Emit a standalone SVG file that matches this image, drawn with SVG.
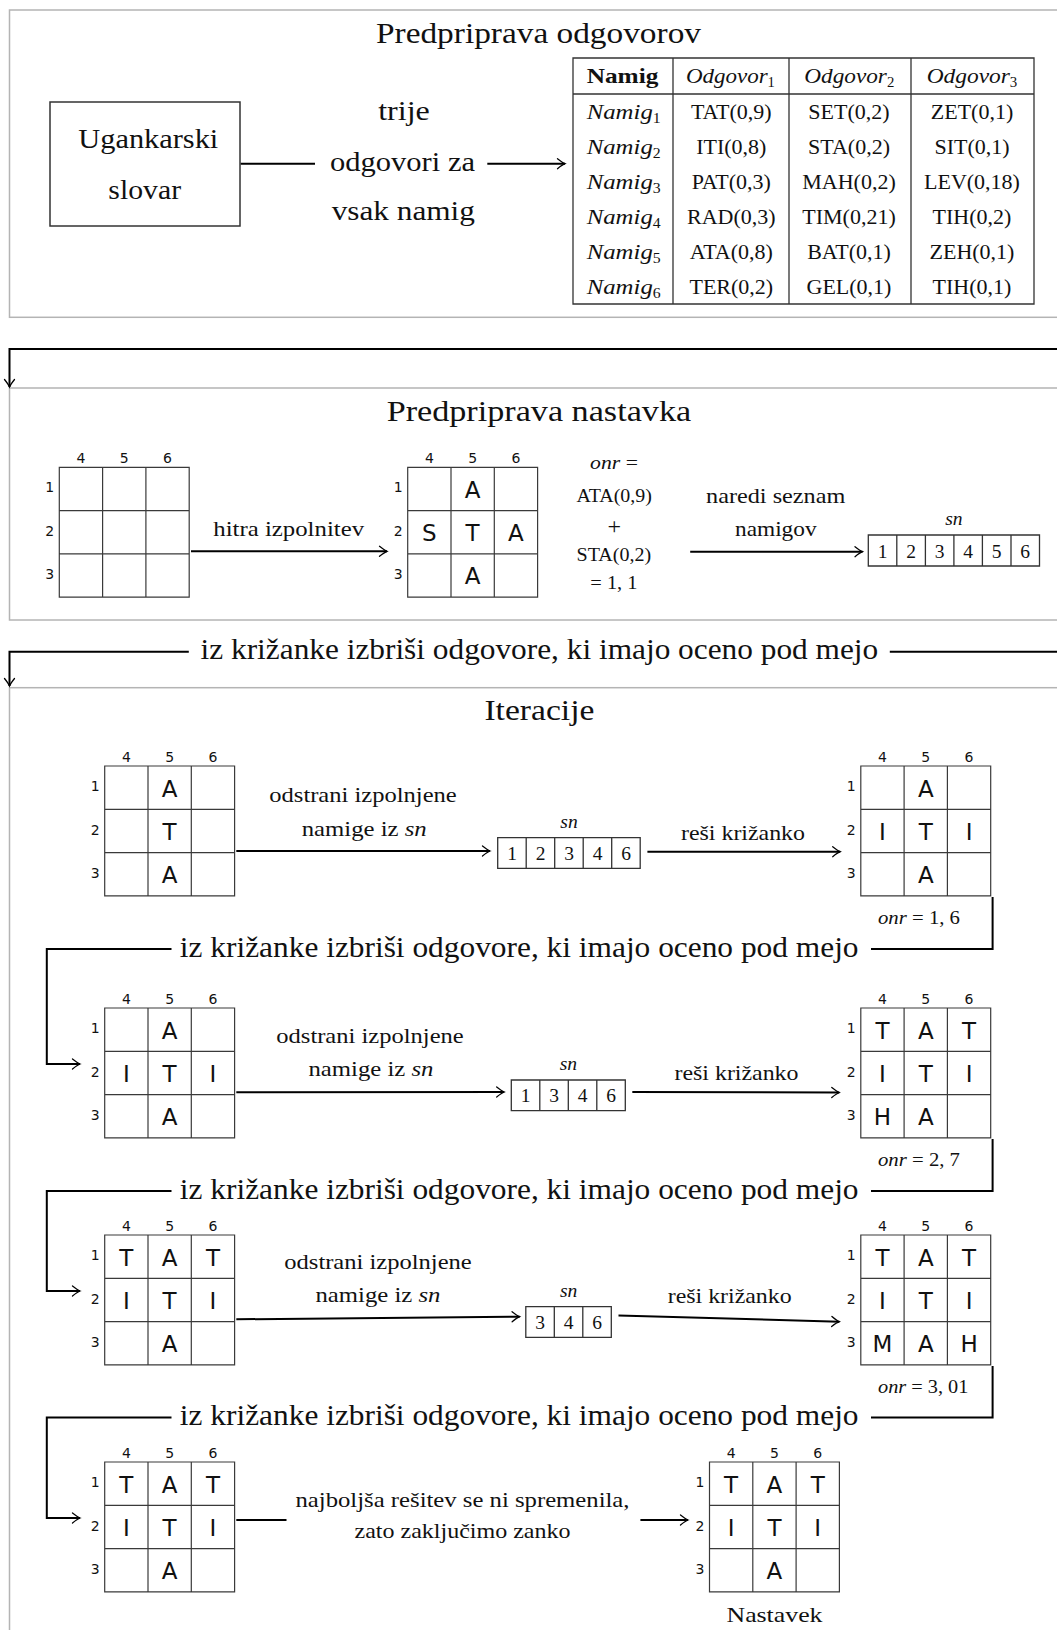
<svg xmlns="http://www.w3.org/2000/svg" width="1057" height="1630" viewBox="0 0 1057 1630">
<defs>
<style>
 .sec{fill:none;stroke:#b4b4b4;stroke-width:1.5}
 .box{fill:none;stroke:#333;stroke-width:1.5}
 .tl{fill:none;stroke:#333;stroke-width:1.3}
 .gl{fill:none;stroke:#3a3a3a;stroke-width:1.2}
 .wire{fill:none;stroke:#000;stroke-width:2}
 .arr{marker-end:url(#tip)}
 text{fill:#111}
 .rm{font-family:"Liberation Serif","Times New Roman",serif}
 .it{font-style:italic}
 .bf{font-weight:bold}
 .sf{font-family:"DejaVu Sans","Liberation Sans",sans-serif}
 .c{text-anchor:middle}
 .h1{font-size:30px}
 .big{font-size:29px}
 .mid{font-size:27px}
 .lbl{font-size:22px}
 .tb{font-size:22px}
 .sm{font-size:19.5px}
 .sub{font-size:14px}
 .idx{font-size:14px}
 .let{font-size:23px}
</style>
<marker id="tip" viewBox="-10 -7 12 14" refX="0" refY="0" markerWidth="12" markerHeight="14" markerUnits="userSpaceOnUse" orient="auto">
 <path d="M-7.5,-5 Q-2.5,-1 0,0 Q-2.5,1 -7.5,5" fill="none" stroke="#000" stroke-width="1.3" stroke-linecap="round"/>
</marker>
<!-- 3x3 crossword grid with column and row numbers -->
<g id="grid">
 <path class="gl" d="M0,0H129.9V129.9H0Z M43.3,0V129.9 M86.6,0V129.9 M0,43.3H129.9 M0,86.6H129.9"/>
 <g class="sf idx c">
  <text x="21.65" y="-4">4</text><text x="64.95" y="-4">5</text><text x="108.25" y="-4">6</text>
  <text x="-9.5" y="24.5">1</text><text x="-9.5" y="68.8">2</text><text x="-9.5" y="111.5">3</text>
 </g>
</g>
</defs>

<rect x="0" y="0" width="1057" height="1630" fill="#fff"/>

<!-- section frames -->
<g id="sections">
 <rect class="sec" x="9.5" y="10" width="1060" height="307.3"/>
 <rect class="sec" x="9.5" y="388" width="1060" height="232"/>
 <rect class="sec" x="9.5" y="687.7" width="1060" height="1000"/>
 <text class="rm h1 c" x="538.5" y="43" textLength="325" lengthAdjust="spacingAndGlyphs">Predpriprava odgovorov</text>
 <text class="rm h1 c" x="538.9" y="421" textLength="304.5" lengthAdjust="spacingAndGlyphs">Predpriprava nastavka</text>
 <text class="rm h1 c" x="539.4" y="719.5" textLength="110" lengthAdjust="spacingAndGlyphs">Iteracije</text>
</g>

<!-- dictionary node -->
<g id="slovar">
 <rect class="box" x="50" y="102" width="190" height="124"/>
 <text class="rm mid c" x="148.3" y="148" textLength="140" lengthAdjust="spacingAndGlyphs">Ugankarski</text>
 <text class="rm mid c" x="144.7" y="199" textLength="72.7" lengthAdjust="spacingAndGlyphs">slovar</text>
</g>

<!-- answers table -->
<g id="tabela">
 <path class="tl" d="M573,58H1034V304H573Z M573,94H1034 M673,58V304 M789,58V304 M911,58V304"/>
 <g class="rm tb c">
  <text class="bf" x="622.5" y="83" textLength="71.7" lengthAdjust="spacingAndGlyphs">Namig</text>
  <text class="it" x="730.4" y="83" textLength="89" lengthAdjust="spacingAndGlyphs">Odgovor<tspan class="sub" font-style="normal" dy="4">1</tspan></text>
  <text class="it" x="849.3" y="83" textLength="90" lengthAdjust="spacingAndGlyphs">Odgovor<tspan class="sub" font-style="normal" dy="4">2</tspan></text>
  <text class="it" x="972" y="83" textLength="90.6" lengthAdjust="spacingAndGlyphs">Odgovor<tspan class="sub" font-style="normal" dy="4">3</tspan></text>

  <text class="it" x="623.7" y="119" textLength="74" lengthAdjust="spacingAndGlyphs">Namig<tspan class="sub" font-style="normal" dy="4">1</tspan></text>
  <text class="it" x="623.7" y="154" textLength="74" lengthAdjust="spacingAndGlyphs">Namig<tspan class="sub" font-style="normal" dy="4">2</tspan></text>
  <text class="it" x="623.7" y="189" textLength="74" lengthAdjust="spacingAndGlyphs">Namig<tspan class="sub" font-style="normal" dy="4">3</tspan></text>
  <text class="it" x="623.7" y="224" textLength="74" lengthAdjust="spacingAndGlyphs">Namig<tspan class="sub" font-style="normal" dy="4">4</tspan></text>
  <text class="it" x="623.7" y="259" textLength="74" lengthAdjust="spacingAndGlyphs">Namig<tspan class="sub" font-style="normal" dy="4">5</tspan></text>
  <text class="it" x="623.7" y="294" textLength="74" lengthAdjust="spacingAndGlyphs">Namig<tspan class="sub" font-style="normal" dy="4">6</tspan></text>

  <text x="731.3" y="119">TAT(0,9)</text><text x="849" y="119">SET(0,2)</text><text x="972" y="119">ZET(0,1)</text>
  <text x="731.3" y="154">ITI(0,8)</text><text x="849" y="154">STA(0,2)</text><text x="972" y="154">SIT(0,1)</text>
  <text x="731.3" y="189">PAT(0,3)</text><text x="849" y="189">MAH(0,2)</text><text x="972" y="189">LEV(0,18)</text>
  <text x="731.3" y="224">RAD(0,3)</text><text x="849" y="224">TIM(0,21)</text><text x="972" y="224">TIH(0,2)</text>
  <text x="731.3" y="259">ATA(0,8)</text><text x="849" y="259">BAT(0,1)</text><text x="972" y="259">ZEH(0,1)</text>
  <text x="731.3" y="294">TER(0,2)</text><text x="849" y="294">GEL(0,1)</text><text x="972" y="294">TIH(0,1)</text>
 </g>
</g>

<!-- preparation of the starting crossword -->
<g id="prazna" transform="translate(59.3,467.3)"><use href="#grid"/></g>
<g id="hitra" transform="translate(407.7,467.3)"><use href="#grid"/>
 <g class="sf let c"><text x="64.95" y="30.6">A</text><text x="21.65" y="73.9">S</text><text x="64.95" y="73.9">T</text><text x="108.25" y="73.9">A</text><text x="64.95" y="117.2">A</text></g>
</g>
<g id="onr0" class="rm sm c">
 <text x="614" y="469.3" textLength="47.8" lengthAdjust="spacingAndGlyphs"><tspan class="it">onr</tspan> =</text>
 <text x="614.2" y="501.7" textLength="75.3" lengthAdjust="spacingAndGlyphs">ATA(0,9)</text>
 <text x="614.2" y="534" font-size="24">+</text>
 <text x="613.9" y="561" textLength="74.7" lengthAdjust="spacingAndGlyphs">STA(0,2)</text>
 <text x="613.9" y="589.3" textLength="47.3" lengthAdjust="spacingAndGlyphs">= 1, 1</text>
</g>
<g id="sn0" class="rm sm c">
 <path class="tl" d="M868.3,535h171.2v31h-171.2Z M896.8,535v31 M925.4,535v31 M953.9,535v31 M982.4,535v31 M1011,535v31"/>
 <text class="it" x="953.9" y="525">sn</text>
 <text x="882.6" y="557.5">1</text><text x="911.1" y="557.5">2</text><text x="939.6" y="557.5">3</text><text x="968.2" y="557.5">4</text><text x="996.7" y="557.5">5</text><text x="1025.2" y="557.5">6</text>
</g>

<!-- iteration 1 -->
<g id="it1-l" transform="translate(104.7,766)"><use href="#grid"/>
 <g class="sf let c"><text x="64.95" y="30.6">A</text><text x="64.95" y="73.9">T</text><text x="64.95" y="117.2">A</text></g>
</g>
<g id="it1-sn" class="rm sm c">
 <path class="tl" d="M497.7,837.7h142.5v30.6h-142.5Z M526.2,837.7v30.6 M554.7,837.7v30.6 M583.2,837.7v30.6 M611.7,837.7v30.6"/>
 <text class="it" x="569" y="828">sn</text>
 <text x="512" y="860">1</text><text x="540.5" y="860">2</text><text x="569" y="860">3</text><text x="597.5" y="860">4</text><text x="626" y="860">6</text>
</g>
<g id="it1-r" transform="translate(860.8,766)"><use href="#grid"/>
 <g class="sf let c"><text x="64.95" y="30.6">A</text><text x="21.65" y="73.9">I</text><text x="64.95" y="73.9">T</text><text x="108.25" y="73.9">I</text><text x="64.95" y="117.2">A</text></g>
</g>

<!-- iteration 2 -->
<g id="it2-l" transform="translate(104.7,1008)"><use href="#grid"/>
 <g class="sf let c"><text x="64.95" y="30.6">A</text><text x="21.65" y="73.9">I</text><text x="64.95" y="73.9">T</text><text x="108.25" y="73.9">I</text><text x="64.95" y="117.2">A</text></g>
</g>
<g id="it2-sn" class="rm sm c">
 <path class="tl" d="M511.3,1080h114v30.6h-114Z M539.8,1080v30.6 M568.3,1080v30.6 M596.8,1080v30.6"/>
 <text class="it" x="568.3" y="1069.5">sn</text>
 <text x="525.6" y="1102.3">1</text><text x="554.1" y="1102.3">3</text><text x="582.6" y="1102.3">4</text><text x="611.1" y="1102.3">6</text>
</g>
<g id="it2-r" transform="translate(860.8,1008)"><use href="#grid"/>
 <g class="sf let c"><text x="21.65" y="30.6">T</text><text x="64.95" y="30.6">A</text><text x="108.25" y="30.6">T</text><text x="21.65" y="73.9">I</text><text x="64.95" y="73.9">T</text><text x="108.25" y="73.9">I</text><text x="21.65" y="117.2">H</text><text x="64.95" y="117.2">A</text></g>
</g>

<!-- iteration 3 -->
<g id="it3-l" transform="translate(104.7,1235)"><use href="#grid"/>
 <g class="sf let c"><text x="21.65" y="30.6">T</text><text x="64.95" y="30.6">A</text><text x="108.25" y="30.6">T</text><text x="21.65" y="73.9">I</text><text x="64.95" y="73.9">T</text><text x="108.25" y="73.9">I</text><text x="64.95" y="117.2">A</text></g>
</g>
<g id="it3-sn" class="rm sm c">
 <path class="tl" d="M525.8,1306.7h85.5v30.6h-85.5Z M554.3,1306.7v30.6 M582.8,1306.7v30.6"/>
 <text class="it" x="568.6" y="1296.5">sn</text>
 <text x="540.1" y="1329">3</text><text x="568.6" y="1329">4</text><text x="597.1" y="1329">6</text>
</g>
<g id="it3-r" transform="translate(860.8,1235)"><use href="#grid"/>
 <g class="sf let c"><text x="21.65" y="30.6">T</text><text x="64.95" y="30.6">A</text><text x="108.25" y="30.6">T</text><text x="21.65" y="73.9">I</text><text x="64.95" y="73.9">T</text><text x="108.25" y="73.9">I</text><text x="21.65" y="117.2">M</text><text x="64.95" y="117.2">A</text><text x="108.25" y="117.2">H</text></g>
</g>

<!-- iteration 4 and result -->
<g id="it4-l" transform="translate(104.7,1462)"><use href="#grid"/>
 <g class="sf let c"><text x="21.65" y="30.6">T</text><text x="64.95" y="30.6">A</text><text x="108.25" y="30.6">T</text><text x="21.65" y="73.9">I</text><text x="64.95" y="73.9">T</text><text x="108.25" y="73.9">I</text><text x="64.95" y="117.2">A</text></g>
</g>
<g id="nastavek" transform="translate(709.5,1462)"><use href="#grid"/>
 <g class="sf let c"><text x="21.65" y="30.6">T</text><text x="64.95" y="30.6">A</text><text x="108.25" y="30.6">T</text><text x="21.65" y="73.9">I</text><text x="64.95" y="73.9">T</text><text x="108.25" y="73.9">I</text><text x="64.95" y="117.2">A</text></g>
 <text class="rm lbl c" x="65" y="159.5" textLength="96" lengthAdjust="spacingAndGlyphs">Nastavek</text>
</g>

<!-- connectors and their labels -->
<g id="connectors">
 <path class="wire" d="M240.7,163.7H315"/>
 <path class="wire arr" d="M487.3,163.7H565"/>
 <path class="wire arr" d="M1060,349H9.5V387"/>
 <path class="wire arr" d="M191,551.3H387"/>
 <path class="wire arr" d="M690.2,551.7H862.5"/>
 <path class="wire" d="M1060,651.7H889.8"/>
 <path class="wire arr" d="M188.8,651.7H9.5V686"/>

 <path class="wire arr" d="M236.3,851H490"/>
 <path class="wire arr" d="M647.4,851.7H840.2"/>
 <path class="wire" d="M992.6,897V949H871"/>
 <path class="wire arr" d="M171.5,949H46.8V1064H80"/>

 <path class="wire arr" d="M236.3,1092.3L504.2,1092"/>
 <path class="wire arr" d="M632.3,1092L839.3,1092.5"/>
 <path class="wire" d="M992.6,1139V1191H871"/>
 <path class="wire arr" d="M171.5,1191H46.8V1291H80"/>

 <path class="wire arr" d="M236.3,1319.3L519.6,1316.7"/>
 <path class="wire arr" d="M618.5,1315.5L839.3,1321.7"/>
 <path class="wire" d="M992.6,1366V1417.5H871"/>
 <path class="wire arr" d="M171.5,1417.5H46.8V1518H80"/>

 <path class="wire" d="M236.3,1520H286.5"/>
 <path class="wire arr" d="M640.4,1520H688"/>

 <g class="rm c">
  <text class="mid" x="404" y="120" textLength="51.7" lengthAdjust="spacingAndGlyphs">trije</text>
  <text class="mid" x="402.5" y="171" textLength="145" lengthAdjust="spacingAndGlyphs">odgovori za</text>
  <text class="mid" x="403.3" y="220" textLength="143.3" lengthAdjust="spacingAndGlyphs">vsak namig</text>

  <text class="lbl" x="288.7" y="535.7" textLength="150.7" lengthAdjust="spacingAndGlyphs">hitra izpolnitev</text>
  <text class="lbl" x="775.7" y="502.7" textLength="139.3" lengthAdjust="spacingAndGlyphs">naredi seznam</text>
  <text class="lbl" x="775.8" y="535.5" textLength="81.6" lengthAdjust="spacingAndGlyphs">namigov</text>

  <text class="big" x="539.4" y="658.5" textLength="677.6" lengthAdjust="spacingAndGlyphs">iz križanke izbriši odgovore, ki imajo oceno pod mejo</text>

  <text class="lbl" x="363" y="802.3" textLength="187.4" lengthAdjust="spacingAndGlyphs">odstrani izpolnjene</text>
  <text class="lbl" x="364.2" y="835.7" textLength="125" lengthAdjust="spacingAndGlyphs">namige iz <tspan class="it">sn</tspan></text>
  <text class="lbl" x="743" y="840" textLength="124" lengthAdjust="spacingAndGlyphs">reši križanko</text>
  <text class="big" x="519.2" y="956.5" textLength="678.7" lengthAdjust="spacingAndGlyphs">iz križanke izbriši odgovore, ki imajo oceno pod mejo</text>

  <text class="lbl" x="370" y="1042.5" textLength="187.4" lengthAdjust="spacingAndGlyphs">odstrani izpolnjene</text>
  <text class="lbl" x="371" y="1075.5" textLength="125" lengthAdjust="spacingAndGlyphs">namige iz <tspan class="it">sn</tspan></text>
  <text class="lbl" x="736.5" y="1080" textLength="124" lengthAdjust="spacingAndGlyphs">reši križanko</text>
  <text class="big" x="519.2" y="1198.5" textLength="678.7" lengthAdjust="spacingAndGlyphs">iz križanke izbriši odgovore, ki imajo oceno pod mejo</text>

  <text class="lbl" x="378" y="1269" textLength="187.4" lengthAdjust="spacingAndGlyphs">odstrani izpolnjene</text>
  <text class="lbl" x="378" y="1302.3" textLength="125" lengthAdjust="spacingAndGlyphs">namige iz <tspan class="it">sn</tspan></text>
  <text class="lbl" x="729.7" y="1302.7" textLength="124" lengthAdjust="spacingAndGlyphs">reši križanko</text>
  <text class="big" x="519.2" y="1425" textLength="678.7" lengthAdjust="spacingAndGlyphs">iz križanke izbriši odgovore, ki imajo oceno pod mejo</text>

  <text class="lbl" x="462.5" y="1506.7" textLength="334" lengthAdjust="spacingAndGlyphs">najboljša rešitev se ni spremenila,</text>
  <text class="lbl" x="462.5" y="1538" textLength="216" lengthAdjust="spacingAndGlyphs">zato zaključimo zanko</text>
 </g>
 <g class="rm sm">
  <text x="878" y="924.3" textLength="82" lengthAdjust="spacingAndGlyphs"><tspan class="it">onr</tspan> = 1, 6</text>
  <text x="878" y="1166" textLength="82" lengthAdjust="spacingAndGlyphs"><tspan class="it">onr</tspan> = 2, 7</text>
  <text x="878" y="1393" textLength="90.4" lengthAdjust="spacingAndGlyphs"><tspan class="it">onr</tspan> = 3, 01</text>
 </g>
</g>
</svg>
